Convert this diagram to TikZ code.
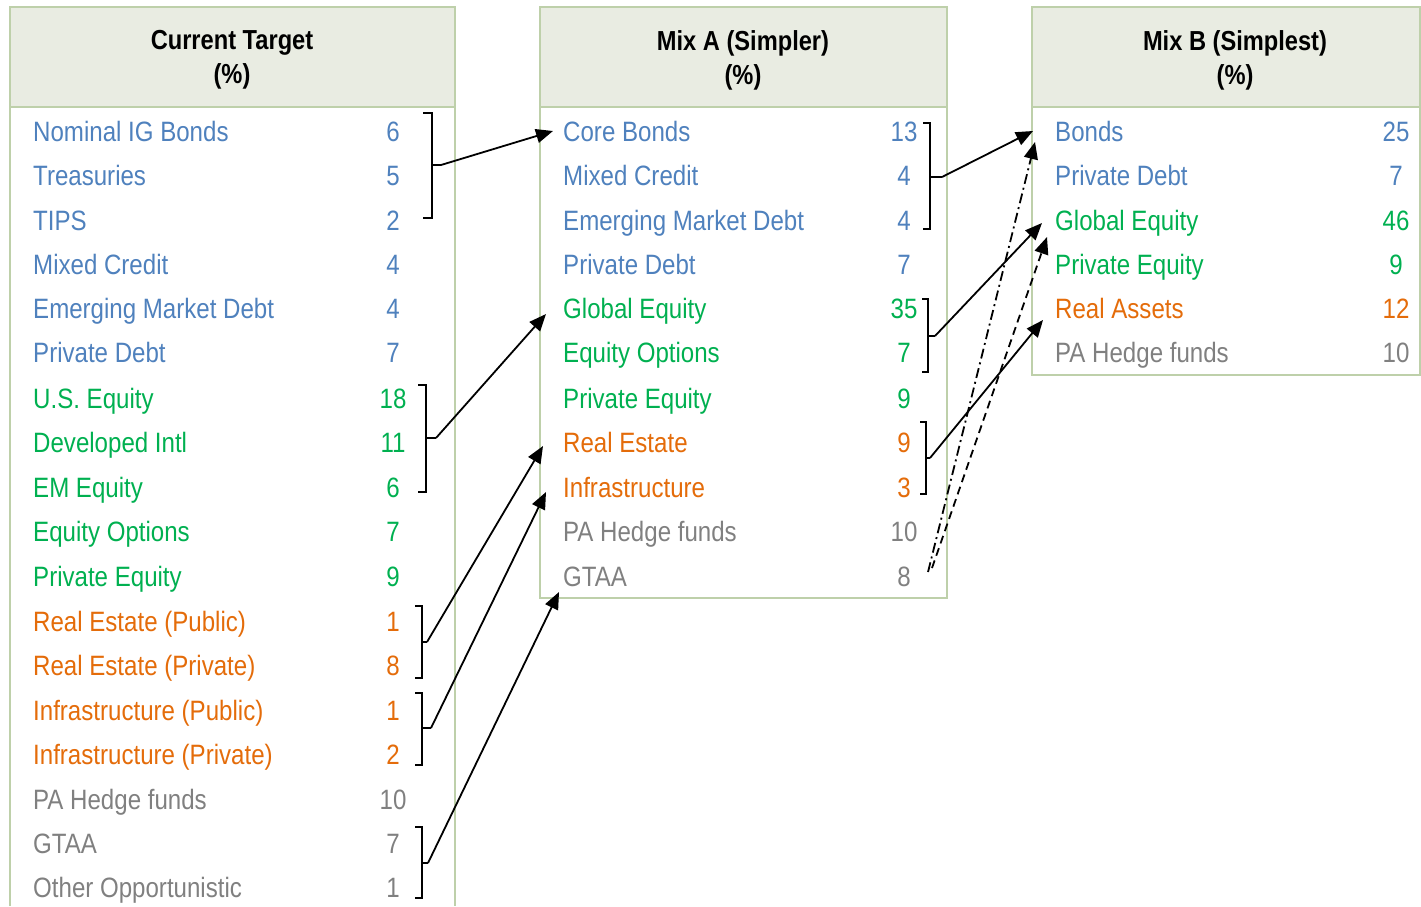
\documentclass[tikz,border=0pt]{standalone}
\usepackage{fontspec}
\setmainfont{Liberation Sans}[FakeStretch=0.86]
\usepackage{tikz}
\usetikzlibrary{arrows.meta,calc,positioning}

\definecolor{bondblue}{RGB}{79,129,189}
\definecolor{equitygreen}{RGB}{0,176,80}
\definecolor{realorange}{RGB}{228,108,10}
\definecolor{othergray}{RGB}{128,128,128}
\definecolor{framegreen}{RGB}{190,208,170}
\definecolor{headfill}{RGB}{233,236,226}

\tikzset{
  tblframe/.style={draw=framegreen,line width=2pt},
  tblhead/.style={font=\bfseries\fontsize{27.5}{34}\selectfont,align=center,inner sep=0pt},
  row/.style={anchor=west,inner sep=0pt,text height=20pt,text depth=0pt,font=\fontsize{28}{30}\selectfont},
  val/.style={inner sep=0pt,text height=20pt,text depth=0pt,font=\fontsize{28}{30}\selectfont},
  brk/.style={line width=1.7pt,line cap=butt},
  link/.style={line width=1.8pt,-{Triangle[length=17pt,width=14pt]}}
}

\begin{document}
\begin{tikzpicture}[x=1pt,y=-1pt,line join=miter]
\useasboundingbox (0,0) rectangle (1421,906);
% table frames
\fill[headfill] (10,7) rectangle (455,107);
\draw[tblframe] (10,906) -- (10,7) -- (455,7) -- (455,906);
\draw[tblframe] (10,107) -- (455,107);
\fill[headfill] (540,7) rectangle (947,107);
\draw[tblframe] (540,7) rectangle (947,598);
\draw[tblframe] (540,107) -- (947,107);
\fill[headfill] (1032,7) rectangle (1420,107);
\draw[tblframe] (1032,7) rectangle (1420,375);
\draw[tblframe] (1032,107) -- (1420,107);

\node[tblhead] (curhead) at (232,60) {Current Target\\(\%)};
\node[tblhead] (mixahead) at (743,60) {Mix A (Simpler)\\(\%)};
\node[tblhead] (mixbhead) at (1235,60) {Mix B (Simplest)\\(\%)};

% current target
\node[row,bondblue] (cur1) at (33,131) {Nominal IG Bonds}; \node[val,bondblue] (curv1) at (393,131) {6};
\node[row,bondblue] (cur2) at (33,175) {Treasuries}; \node[val,bondblue] (curv2) at (393,175) {5};
\node[row,bondblue] (cur3) at (33,220) {TIPS}; \node[val,bondblue] (curv3) at (393,220) {2};
\node[row,bondblue] (cur4) at (33,264) {Mixed Credit}; \node[val,bondblue] (curv4) at (393,264) {4};
\node[row,bondblue] (cur5) at (33,308) {Emerging Market Debt}; \node[val,bondblue] (curv5) at (393,308) {4};
\node[row,bondblue] (cur6) at (33,352) {Private Debt}; \node[val,bondblue] (curv6) at (393,352) {7};
\node[row,equitygreen] (cur7) at (33,398) {U.S. Equity}; \node[val,equitygreen] (curv7) at (393,398) {18};
\node[row,equitygreen] (cur8) at (33,442) {Developed Intl}; \node[val,equitygreen] (curv8) at (393,442) {11};
\node[row,equitygreen] (cur9) at (33,487) {EM Equity}; \node[val,equitygreen] (curv9) at (393,487) {6};
\node[row,equitygreen] (cur10) at (33,531) {Equity Options}; \node[val,equitygreen] (curv10) at (393,531) {7};
\node[row,equitygreen] (cur11) at (33,576) {Private Equity}; \node[val,equitygreen] (curv11) at (393,576) {9};
\node[row,realorange] (cur12) at (33,621) {Real Estate (Public)}; \node[val,realorange] (curv12) at (393,621) {1};
\node[row,realorange] (cur13) at (33,665) {Real Estate (Private)}; \node[val,realorange] (curv13) at (393,665) {8};
\node[row,realorange] (cur14) at (33,710) {Infrastructure (Public)}; \node[val,realorange] (curv14) at (393,710) {1};
\node[row,realorange] (cur15) at (33,754) {Infrastructure (Private)}; \node[val,realorange] (curv15) at (393,754) {2};
\node[row,othergray] (cur16) at (33,799) {PA Hedge funds}; \node[val,othergray] (curv16) at (393,799) {10};
\node[row,othergray] (cur17) at (33,843) {GTAA}; \node[val,othergray] (curv17) at (393,843) {7};
\node[row,othergray] (cur18) at (33,887) {Other Opportunistic}; \node[val,othergray] (curv18) at (393,887) {1};

% mix a
\node[row,bondblue] (mixa1) at (563,131) {Core Bonds}; \node[val,bondblue] (mixav1) at (904,131) {13};
\node[row,bondblue] (mixa2) at (563,175) {Mixed Credit}; \node[val,bondblue] (mixav2) at (904,175) {4};
\node[row,bondblue] (mixa3) at (563,220) {Emerging Market Debt}; \node[val,bondblue] (mixav3) at (904,220) {4};
\node[row,bondblue] (mixa4) at (563,264) {Private Debt}; \node[val,bondblue] (mixav4) at (904,264) {7};
\node[row,equitygreen] (mixa5) at (563,308) {Global Equity}; \node[val,equitygreen] (mixav5) at (904,308) {35};
\node[row,equitygreen] (mixa6) at (563,352) {Equity Options}; \node[val,equitygreen] (mixav6) at (904,352) {7};
\node[row,equitygreen] (mixa7) at (563,398) {Private Equity}; \node[val,equitygreen] (mixav7) at (904,398) {9};
\node[row,realorange] (mixa8) at (563,442) {Real Estate}; \node[val,realorange] (mixav8) at (904,442) {9};
\node[row,realorange] (mixa9) at (563,487) {Infrastructure}; \node[val,realorange] (mixav9) at (904,487) {3};
\node[row,othergray] (mixa10) at (563,531) {PA Hedge funds}; \node[val,othergray] (mixav10) at (904,531) {10};
\node[row,othergray] (mixa11) at (563,576) {GTAA}; \node[val,othergray] (mixav11) at (904,576) {8};

% mix b
\node[row,bondblue] (mixb1) at (1055,131) {Bonds}; \node[val,bondblue] (mixbv1) at (1396,131) {25};
\node[row,bondblue] (mixb2) at (1055,175) {Private Debt}; \node[val,bondblue] (mixbv2) at (1396,175) {7};
\node[row,equitygreen] (mixb3) at (1055,220) {Global Equity}; \node[val,equitygreen] (mixbv3) at (1396,220) {46};
\node[row,equitygreen] (mixb4) at (1055,264) {Private Equity}; \node[val,equitygreen] (mixbv4) at (1396,264) {9};
\node[row,realorange] (mixb5) at (1055,308) {Real Assets}; \node[val,realorange] (mixbv5) at (1396,308) {12};
\node[row,othergray] (mixb6) at (1055,352) {PA Hedge funds}; \node[val,othergray] (mixbv6) at (1396,352) {10};

% brackets, current target
\draw[brk] (423,113) -- (432,113) -- (432,218) -- (423,218);
\draw[brk] (432,165) -- (441,165) coordinate (bondgrp);
\draw[brk] (418,385) -- (426,385) -- (426,492) -- (418,492);
\draw[brk] (426,438) -- (436,438) coordinate (equitygrp);
\draw[brk] (415,606) -- (422,606) -- (422,678) -- (415,678);
\draw[brk] (422,642) -- (427,642) coordinate (estategrp);
\draw[brk] (415,693) -- (422,693) -- (422,765) -- (415,765);
\draw[brk] (422,728) -- (431,728) coordinate (infragrp);
\draw[brk] (415,827) -- (422,827) -- (422,898) -- (415,898);
\draw[brk] (422,863) -- (428,863) coordinate (gtaagrp);

% brackets, mix a
\draw[brk] (923,123) -- (930,123) -- (930,229) -- (923,229);
\draw[brk] (930,177) -- (942,177) coordinate (bondgrpa);
\draw[brk] (922,299) -- (928,299) -- (928,372) -- (922,372);
\draw[brk] (928,336) -- (935,336) coordinate (equitygrpa);
\draw[brk] (920,422) -- (926,422) -- (926,494) -- (920,494);
\draw[brk] (926,458) -- (930,458) coordinate (realgrpa);
\coordinate (hedgefrom) at (928,572);
\coordinate (optfrom) at (932,568);

% links
\draw[link] (bondgrp) -- ($(mixa1.west)+(-10,0)$);
\draw[link] (equitygrp) -- ($(mixa5.west)+(-17,6)$);
\draw[link] (estategrp) -- ($(mixa8.west)+(-20,4)$);
\draw[link] (infragrp) -- ($(mixa9.west)+(-17,5)$);
\draw[link] (gtaagrp) -- ($(mixa11.west)+(-4,16)$);
\draw[link] (bondgrpa) -- ($(mixb1.west)+(-22,0)$);
\draw[link] (equitygrpa) -- ($(mixb3.west)+(-13,3)$);
\draw[link] (realgrpa) -- ($(mixb5.west)+(-12,12)$);
\draw[link,dash pattern=on 10pt off 4pt on 2pt off 4pt] (hedgefrom) -- ($(mixb1.west)+(-20,11)$);
\draw[link,dash pattern=on 8pt off 5pt] (optfrom) -- ($(mixb3.west)+(-8,17)$);
\end{tikzpicture}
\end{document}
